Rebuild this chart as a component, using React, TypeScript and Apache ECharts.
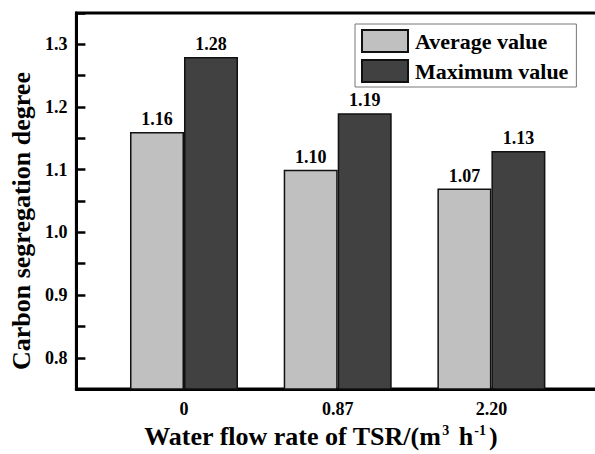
import React, { useEffect, useRef } from "react";
import * as echarts from "echarts";

const categories = ["0", "0.87", "2.20"];
const averageValues = [1.16, 1.1, 1.07];
const maximumValues = [1.28, 1.19, 1.13];
const seriesNames = ["Average value", "Maximum value"];
const yTickLabels = [0.8, 0.9, 1.0, 1.1, 1.2, 1.3];

const FONT = '"Times New Roman", "Liberation Serif", serif';

export default function App() {
  const ref = useRef<HTMLDivElement>(null);
  useEffect(() => {
    if (!ref.current) return;
    const chart = echarts.init(ref.current, null, { renderer: "svg" });
    const labelStyle = {
      show: true,
      position: "top",
      distance: 4,
      fontFamily: FONT,
      fontWeight: "bold",
      fontSize: 18,
      color: "#000",
      formatter: (p: any) => Number(p.value[1]).toFixed(2),
    };
    chart.setOption({
      animation: false,
      backgroundColor: "#fff",
      textStyle: { fontFamily: FONT },
      grid: {
        left: 75,
        right: 5,
        top: 13,
        bottom: 55,
        show: true,
        borderColor: "#000",
        borderWidth: 3,
      },
      legend: {
        orient: "vertical",
        left: 355,
        top: 24,
        padding: [5, 8, 4, 6],
        borderColor: "#777",
        borderWidth: 1,
        itemWidth: 46,
        itemHeight: 22,
        itemGap: 6,
        icon: "rect",
        textStyle: {
          fontFamily: FONT,
          fontWeight: "bold",
          fontSize: 22,
          color: "#000",
          padding: [0, 0, 0, 2],
        },
        data: seriesNames,
      },
      xAxis: {
        type: "value",
        min: -0.7,
        max: 2.7,
        splitLine: { show: false },
        axisLine: { show: true, onZero: false, lineStyle: { color: "#000", width: 3 } },
        axisTick: { show: false },
        axisLabel: {
          customValues: [0, 1, 2],
          formatter: (v: number) => categories[Math.round(v)] ?? "",
          fontFamily: FONT,
          fontWeight: "bold",
          fontSize: 18,
          color: "#000",
          margin: 11,
        },
        name: "Water flow rate of TSR/(m{sup|3} h{sup|-1})",
        nameLocation: "middle",
        nameGap: 33,
        nameTextStyle: {
          fontFamily: FONT,
          fontWeight: "bold",
          fontSize: 26,
          color: "#000",
          padding: [0, 34, 0, 0],
          rich: {
            sup: {
              fontFamily: FONT,
              fontWeight: "bold",
              fontSize: 14,
              color: "#000",
              verticalAlign: "top",
              padding: [0, 3, 10, 1],
            },
          },
        },
      },
      yAxis: {
        type: "value",
        min: 0.75,
        max: 1.35,
        interval: 0.05,
        splitLine: { show: false },
        axisLine: { show: true, onZero: false, lineStyle: { color: "#000", width: 3 } },
        axisTick: {
          show: true,
          inside: true,
          length: 9,
          lineStyle: { color: "#000", width: 2.5 },
        },
        axisLabel: {
          fontFamily: FONT,
          fontWeight: "bold",
          fontSize: 18,
          color: "#000",
          margin: 9,
          formatter: (v: number) => {
            const match = yTickLabels.find((t) => Math.abs(t - v) < 1e-6);
            return match !== undefined ? match.toFixed(1) : "";
          },
        },
        name: "Carbon segregation degree",
        nameLocation: "middle",
        nameGap: 29,
        nameTextStyle: {
          fontFamily: FONT,
          fontWeight: "bold",
          fontSize: 26,
          color: "#000",
          padding: [0, 40, 0, 0],
        },
      },
      series: [
        {
          name: seriesNames[0],
          type: "bar",
          barWidth: 54,
          barGap: "0%",
          data: averageValues.map((v, i) => [i, v]),
          itemStyle: { color: "#c0c0c0", borderColor: "#111", borderWidth: 1.5 },
          label: labelStyle,
        },
        {
          name: seriesNames[1],
          type: "bar",
          barWidth: 54,
          barGap: "0%",
          data: maximumValues.map((v, i) => [i, v]),
          itemStyle: { color: "#414141", borderColor: "#111", borderWidth: 1.5 },
          label: labelStyle,
        },
      ],
    });
    return () => chart.dispose();
  }, []);
  return (
    <div
      style={{
        position: "fixed",
        left: 0,
        top: 0,
        width: 595,
        height: 454,
        overflow: "hidden",
        background: "#fff",
      }}
    >
      <div ref={ref} style={{ width: 604, height: 454 }} />
    </div>
  );
}
